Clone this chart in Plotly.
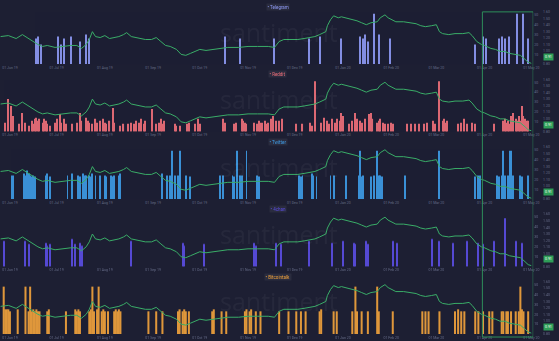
import pandas as pd
import plotly.graph_objects as go

START = "2019-05-26"
X_RANGE = ["2019-05-25 15:00", "2020-05-02 06:00"]
TICK_DATES = ["2019-06-01", "2019-07-01", "2019-08-01", "2019-09-01", "2019-10-01", "2019-11-01",
              "2019-12-01", "2020-01-01", "2020-02-01", "2020-03-01", "2020-04-01", "2020-05-01"]
HIGHLIGHT_START = "2020-03-30 14:00"

SOURCES = ["Telegram", "Reddit", "Twitter", "4chan", "Bitcointalk"]
COLORS = ["#8f9bf7", "#f2707a", "#3f9de8", "#5c4ee6", "#f5a53c"]

PRICE_DAYS = [0, 5, 10, 14, 17, 21, 24, 27, 30, 35, 39, 45, 49, 52, 55, 57, 59, 61, 64, 67,
              70, 73, 76, 79, 81, 84, 87, 90, 93, 97, 100, 103, 106, 109, 113, 116, 119, 122, 125, 128,
              132, 137, 141, 146, 153, 159, 165, 172, 176, 179, 182, 186, 191, 195, 199, 202, 205, 209, 210, 212,
              214, 217, 219, 222, 226, 229, 232, 235, 238, 242, 244, 247, 249, 252, 254, 259, 263, 267, 270, 273,
              277, 280, 282, 284, 288, 292, 297, 301, 303, 306, 309, 311, 315, 318, 321, 324, 327, 331, 334, 337,
              339, 341]
PRICE_VALS = [1.223, 1.238, 1.193, 1.253, 1.208, 1.147, 1.102, 1.072, 1.087, 1.057,
              1.072, 1.087, 1.087, 1.042, 1.102, 1.178, 1.298, 1.223, 1.208, 1.238,
              1.193, 1.208, 1.223, 1.253, 1.283, 1.223, 1.208, 1.193, 1.178, 1.178,
              1.208, 1.147, 1.087, 1.072, 1.027, 0.951, 0.936, 0.966, 0.996, 1.027,
              1.011, 1.027, 1.042, 1.057, 1.057, 1.072, 1.072, 1.072, 1.057, 1.147,
              1.178, 1.178, 1.178, 1.193, 1.208, 1.223, 1.253, 1.298, 1.389, 1.480,
              1.540, 1.510, 1.525, 1.510, 1.480, 1.464, 1.434, 1.404, 1.434, 1.449,
              1.510, 1.555, 1.510, 1.480, 1.449, 1.449, 1.434, 1.419, 1.389, 1.374,
              1.389, 1.404, 1.298, 1.268, 1.253, 1.268, 1.268, 1.283, 1.238, 1.147,
              1.102, 1.087, 1.042, 1.027, 0.996, 0.996, 0.966, 0.951, 0.936, 0.875,
              0.830, 0.815]
PRICE_TICKS = [0.8, 1.0, 1.1, 1.2, 1.3, 1.4, 1.5, 1.6]
CURRENT_PRICE = 0.91

TELEGRAM_DAYS = [23, 24, 26, 37, 39, 41, 45, 51, 55, 57, 144, 154, 176, 198, 205, 219, 231, 233, 234, 236,
                 240, 243, 250, 305, 310, 312, 320, 322, 324, 327, 332, 336, 339]
TELEGRAM_VALS = [26, 28, 20, 28, 20, 26, 28, 23, 30, 26, 28, 26, 26, 26, 28, 26, 28, 26, 30, 23,
                 51, 30, 26, 20, 28, 26, 26, 28, 26, 28, 51, 51, 26]

REDDIT_DAYS = [3, 5, 7, 8, 12, 14, 16, 18, 20, 21, 22, 23, 24, 25, 27, 28, 29, 30, 32, 35,
               36, 38, 39, 41, 42, 46, 49, 51, 52, 55, 56, 57, 59, 61, 62, 64, 66, 67, 68, 70,
               72, 73, 77, 79, 82, 84, 86, 87, 89, 90, 92, 93, 97, 100, 102, 103, 104, 105, 112, 113,
               115, 120, 121, 125, 127, 128, 143, 144, 150, 151, 155, 156, 157, 158, 163, 165, 166, 167, 168, 170,
               171, 172, 174, 175, 177,
               179, 181, 190, 194, 199, 200, 202, 206, 208, 210, 211, 213, 215, 216, 218, 219, 220, 224, 226, 228,
               229, 231, 232, 234, 237, 238, 239, 242, 243, 244, 246, 247, 249, 251, 252, 261, 264, 266, 269, 272,
               274, 278, 279, 282, 284, 285, 286, 287, 294, 296, 298, 300, 303, 305, 317, 323, 324, 325, 326, 327,
               328, 329, 331, 332, 333, 334, 335, 336, 337, 338, 339]
REDDIT_VALS = [9, 33, 26, 16, 8, 19, 9, 6, 11, 8, 13, 14, 11, 13, 9, 13, 11, 8, 6, 9,
               13, 18, 9, 13, 8, 8, 9, 19, 11, 14, 11, 9, 8, 13, 9, 11, 13, 9, 8, 11,
               24, 9, 6, 8, 8, 9, 8, 11, 9, 13, 8, 11, 23, 8, 9, 13, 8, 11, 8, 6,
               6, 8, 9, 8, 13, 8, 13, 9, 8, 9, 13, 11, 9, 8, 9, 8, 11, 9, 9, 11,
               8, 9, 13, 16, 11,
               11, 13, 8, 8, 9, 6, 51, 9, 14, 11, 8, 13, 9, 13, 11, 19, 16, 8, 11, 19,
               13, 11, 9, 13, 18, 19, 13, 9, 11, 13, 9, 8, 8, 9, 8, 8, 8, 8, 8, 8,
               9, 11, 8, 51, 11, 13, 9, 11, 8, 9, 13, 8, 9, 8, 8, 11, 13, 9, 11, 8,
               16, 19, 13, 11, 16, 11, 26, 16, 13, 11, 11]

TWITTER_DAYS = [7, 8, 15, 16, 17, 18, 19, 20, 21, 22, 29, 30, 32, 43, 46, 50, 51, 53, 54, 55, 57, 58, 59, 61, 64,
                67, 68, 71, 72, 73, 76, 77, 104, 107, 109, 110, 112, 114, 115, 119, 122, 141, 143, 149, 150, 152,
                154, 155, 158, 165, 166, 192, 193, 194, 200, 201, 203, 212, 214, 222, 230, 231, 232, 233, 238, 240,
                242, 243, 244, 245, 260, 282, 305, 307, 308, 319, 320, 322, 323, 324, 326, 327, 328, 329, 334, 335, 339]
TWITTER_VALS = [24, 24, 26, 24, 29, 26, 24, 23, 24, 23, 24, 26, 23, 24, 26, 24, 23, 26, 24, 24, 24, 23, 26, 24, 24,
                24, 23, 24, 23, 24, 24, 26, 26, 24, 24, 49, 24, 24, 49, 24, 23, 24, 24, 24, 23, 49,
                24, 24, 49, 24, 23, 24, 23, 24, 26, 24, 23, 24, 24, 24, 24, 49, 23, 24, 23, 24,
                49, 24, 24, 23, 24, 49, 23, 24, 24, 24, 23, 24, 49, 24, 24, 49, 49, 24, 24, 23, 24]

CHAN_DAYS = [2, 16, 18, 29, 30, 32, 46, 48, 51, 52, 84, 117, 118, 131, 163, 164, 177, 180, 198, 213, 220, 227, 228,
             235, 236, 252, 255, 277, 282, 291, 300, 307, 310, 317, 324, 331, 335]
CHAN_VALS = [26, 26, 23, 24, 21, 23, 28, 23, 24, 21, 26, 24, 21, 23, 24, 21, 24, 23, 26, 24, 26, 24, 23,
             26, 23, 26, 24, 28, 26, 24, 26, 24, 23, 26, 49, 26, 24]

BTALK_DAYS = [2, 3, 4, 5, 6, 11, 16, 18, 19, 20, 21, 22, 23, 24, 25, 30, 31, 42, 48, 49, 50, 51,
              57, 58, 59, 60, 62, 63, 65, 66, 67, 69, 73, 74, 75, 76, 77, 95, 100, 104,
              114, 115, 117, 118, 119, 121, 136, 137, 142, 145, 157, 158, 160, 161, 164, 167,
              179, 185, 190, 193, 196, 205, 206, 214, 216, 226, 228, 229, 232, 236, 242, 243, 252,
              271, 273, 275, 282, 292, 294, 296, 298, 305, 307, 310, 314, 316,
              322, 323, 325, 326, 328, 331, 333, 334, 335, 336, 339]
BTALK_VALS = [48, 25, 25, 25, 23, 25, 48, 23, 48, 23, 25, 23, 25, 23, 23, 23, 25, 23, 25, 23, 25, 23,
              23, 25, 48, 23, 25, 48, 23, 25, 23, 23, 23, 25, 23, 25, 23, 23, 23, 23,
              23, 25, 23, 25, 23, 23, 23, 25, 23, 23, 23, 25, 23, 25, 23, 23,
              23, 23, 23, 23, 23, 23, 25, 23, 23, 23, 48, 23, 23, 23, 48, 23, 23,
              23, 23, 23, 23, 23, 25, 23, 23, 23, 23, 23, 23, 23,
              23, 23, 23, 23, 23, 23, 23, 48, 25, 23, 23]

LATEST_VALS = [51, 7, 25, 25, 24]

SERIES_DAYS = [TELEGRAM_DAYS, REDDIT_DAYS, TWITTER_DAYS, CHAN_DAYS, BTALK_DAYS]
SERIES_VALS = [TELEGRAM_VALS, REDDIT_VALS, TWITTER_VALS, CHAN_VALS, BTALK_VALS]

# ---------------------------------------------------------------
W, H = 559, 341
PLOT_RIGHT = 539
PANEL_H = 68.25
BG = "#1d1f33"
GREEN = "#3aad68"
LABEL = "#666c88"
DAY_MS = 86400000
BAR_WIDTH_DAYS = [0.65, 0.7, 0.6, 0.65, 1.3]

start = pd.Timestamp(START)


def to_dates(days):
    return [start + pd.Timedelta(days=d) for d in days]


price_dates = to_dates(PRICE_DAYS)
fig = go.Figure()
layout = dict(width=W, height=H, margin=dict(l=0, r=0, t=0, b=0),
              paper_bgcolor=BG, plot_bgcolor=BG, showlegend=False,
              font=dict(family="Roboto", color=LABEL), annotations=[], shapes=[])

for i in range(5):
    o = i * PANEL_H
    dom = [1 - (o + 63) / H, 1 - (o + 10) / H]
    xn = "x" if i == 0 else f"x{i + 1}"
    yn = "y" if i == 0 else f"y{i + 1}"
    pyn = f"y{i + 6}"
    xkey = "xaxis" if i == 0 else f"xaxis{i + 1}"
    ykey = "yaxis" if i == 0 else f"yaxis{i + 1}"
    pykey = f"yaxis{i + 6}"

    layout[xkey] = dict(domain=[0, PLOT_RIGHT / W], range=X_RANGE, type="date", anchor=yn,
                        tickvals=TICK_DATES, tickformat="%d %b %y", tickfont=dict(size=3.5, color=LABEL),
                        showgrid=False, zeroline=False, showline=False, ticks="")
    layout[ykey] = dict(domain=dom, anchor=xn, side="right", range=[0, 53],
                        tickvals=[10, 20, 30, 40, 50], tickfont=dict(size=3.5, color=LABEL),
                        showgrid=False, zeroline=False, showline=False, ticks="")
    layout[pykey] = dict(overlaying=yn, anchor="free", position=548 / W, side="right",
                         range=[0.8, 1.6], tickvals=PRICE_TICKS, tickformat=".2f",
                         tickfont=dict(size=3.5, color=LABEL),
                         showgrid=False, zeroline=False, showline=False, ticks="")

    fig.add_trace(go.Bar(x=to_dates(SERIES_DAYS[i]), y=SERIES_VALS[i], xaxis=xn, yaxis=yn,
                         width=DAY_MS * BAR_WIDTH_DAYS[i],
                         marker=dict(color=COLORS[i], line_width=0), opacity=0.9))
    fig.add_trace(go.Scatter(x=price_dates, y=PRICE_VALS, mode="lines", xaxis=xn, yaxis=pyn,
                             line=dict(color=GREEN, width=1)))
    fig.add_trace(go.Scatter(x=[pd.Timestamp(X_RANGE[1]) + pd.Timedelta(days=2)], y=[LATEST_VALS[i]],
                             mode="markers", xaxis=xn, yaxis=yn, cliponaxis=False,
                             marker=dict(color="#d8dcff" if i == 0 else COLORS[i], size=4,
                                         symbol="circle" if i == 0 else "square")))

    layout["annotations"].append(dict(xref="paper", yref="paper", x=0.505, y=1 - (o + 30) / H,
                                      xanchor="center", yanchor="middle",
                                      text="santiment", showarrow=False,
                                      font=dict(size=25, color="rgba(255,255,255,0.045)", family="Open Sans")))
    layout["annotations"].append(dict(xref="paper", yref="paper", x=0.502, y=1 - (o + 5) / H,
                                      xanchor="center", yanchor="middle",
                                      text="• " + SOURCES[i], showarrow=False, borderpad=0.5,
                                      bgcolor="rgba(255,255,255,0.06)",
                                      font=dict(size=4.5, color=COLORS[i])))
    layout["annotations"].append(dict(xref="paper", yref=pyn, x=554 / W, y=CURRENT_PRICE,
                                      xanchor="center", yanchor="middle",
                                      text=f"{CURRENT_PRICE:.2f}", showarrow=False, borderpad=1,
                                      bgcolor="#2f9e58", font=dict(size=3.5, color="#ffffff")))

layout["shapes"].append(dict(type="rect", xref="x", yref="paper", x0=HIGHLIGHT_START, x1=X_RANGE[1],
                             y0=1 - 339 / H, y1=1 - 10 / H, line=dict(color="#2e8f5a", width=1),
                             fillcolor="rgba(0,0,0,0)"))

fig.update_layout(**layout)
fig.write_html("out.html", config={"displayModeBar": False})
